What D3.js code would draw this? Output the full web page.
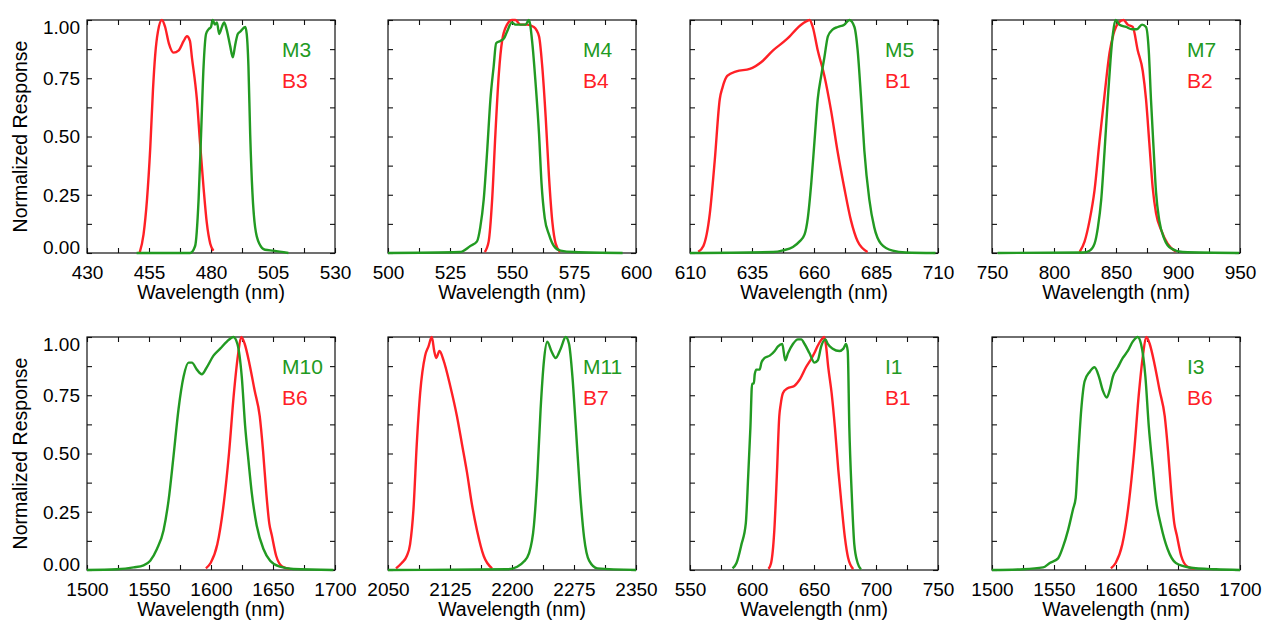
<!DOCTYPE html>
<html>
<head>
<meta charset="utf-8">
<script src="https://cdn.jsdelivr.net/npm/d3@7"></script>
<style>
body { margin: 0; background: #fff; }
svg text { font-family: "Liberation Sans", Arial, Helvetica, sans-serif; fill: #000; }
</style>
</head>
<body>
<svg id="chart" width="1264" height="620"></svg>
<script>

// spectral response functions, [wavelength nm, normalized response]
const m3 = [[450,0],[471.6,0],[473.6,0.03],[475,0.23],[476,0.51],[477,0.8],[478,0.94],[479,0.96],[480,0.97],[480.7,1.0],[481.6,0.98],[482.4,0.99],[483.3,0.94],[484.4,0.97],[485.3,0.99],[486.3,0.96],[487.7,0.89],[488.8,0.84],[489.7,0.89],[490.8,0.94],[491.8,0.95],[493.8,0.97],[494.4,0.94],[495.1,0.8],[495.8,0.51],[496.7,0.26],[497.8,0.11],[499.5,0.04],[501.8,0.014],[505.2,0.01],[511.2,0]];
const b3 = [[451.2,0],[452.8,0.08],[454.2,0.23],[455.5,0.45],[456.6,0.7],[457.5,0.85],[458.6,0.95],[460.2,1.0],[461.5,0.97],[463,0.9],[464.9,0.86],[467,0.87],[469,0.91],[470.3,0.93],[471.5,0.91],[472.3,0.84],[474.3,0.66],[475.6,0.47],[477,0.28],[478.3,0.13],[479.7,0.04],[481,0.01]];

const m4 = [[500,0],[529,0.004],[533.2,0.03],[535.9,0.05],[537.2,0.11],[538.6,0.23],[540,0.44],[541.3,0.66],[542.6,0.8],[543.6,0.9],[545.3,0.91],[546.7,0.92],[548,0.95],[550,0.99],[551.4,0.98],[553.4,0.98],[555.5,0.98],[556.8,1.0],[558.2,0.9],[559.5,0.73],[560.9,0.51],[561.9,0.3],[563.2,0.15],[564.9,0.08],[566.9,0.03],[569.6,0.01],[575,0.004],[594.6,0]];
const b4 = [[539,0.004],[540.6,0.05],[542,0.23],[543.3,0.51],[544.7,0.77],[546,0.91],[548,0.98],[550,1.0],[551.4,1.0],[553.4,0.98],[556.1,0.98],[558.8,0.97],[560.9,0.93],[562.2,0.8],[563.6,0.58],[564.9,0.33],[566.3,0.13],[567.6,0.04],[569.4,0.004]];

const m5 = [[610,0],[643.5,0.004],[647.5,0.011],[651.5,0.026],[654.2,0.05],[656.2,0.08],[657.5,0.15],[658.9,0.3],[660.2,0.48],[661.5,0.66],[662.9,0.76],[664.2,0.84],[665.6,0.93],[667.6,0.96],[669.6,0.97],[672.2,0.98],[674.3,1.0],[676.3,0.97],[677.6,0.87],[679,0.66],[680.3,0.44],[682.3,0.23],[684.3,0.11],[687,0.04],[691.7,0.01],[697,0.002],[709,0]];
const b1 = [[613.3,0.005],[615.4,0.03],[618,0.17],[620,0.4],[622,0.66],[623.1,0.71],[625,0.76],[628.7,0.78],[634.1,0.79],[638.8,0.82],[643.5,0.87],[648.2,0.91],[650.2,0.93],[652.8,0.96],[656.2,0.99],[658.2,1.0],[659.5,0.97],[661.5,0.87],[664.2,0.76],[666.9,0.61],[669.6,0.43],[672.2,0.28],[674.9,0.14],[677.6,0.05],[681.6,0.004]];

const m7 = [[754.6,0],[823.4,0.002],[828.7,0.01],[832.7,0.04],[835.4,0.11],[838.1,0.23],[840.8,0.44],[843.4,0.66],[845.6,0.83],[847.5,0.94],[849.6,1.0],[852.8,0.98],[858.2,0.97],[863,0.96],[866.7,0.96],[871,0.98],[874.2,0.97],[876.4,0.87],[878.2,0.66],[880.4,0.44],[882.3,0.26],[884.9,0.14],[889,0.06],[894.3,0.02],[903.7,0.004],[949.2,0]];
const b2 = [[820.7,0.005],[824.7,0.05],[828.7,0.14],[832.7,0.27],[836.7,0.48],[840.8,0.68],[844.8,0.86],[848,0.94],[852.3,0.99],[856,1.0],[859.5,0.98],[863.5,0.97],[867.5,0.87],[871.6,0.78],[874.2,0.66],[876.9,0.47],[879.6,0.28],[882.3,0.17],[886.3,0.1],[891.6,0.04],[898.3,0.005]];

const m10 = [[1500,0],[1524,0.003],[1537.6,0.011],[1545.6,0.02],[1551,0.04],[1556.4,0.09],[1561.7,0.17],[1565.8,0.3],[1569.8,0.49],[1573.8,0.69],[1577.9,0.83],[1581.9,0.89],[1584.6,0.89],[1588.6,0.86],[1592.6,0.84],[1596.6,0.87],[1602,0.92],[1607.4,0.95],[1612.8,0.98],[1618.1,1.0],[1621.3,0.97],[1624.8,0.83],[1627.5,0.62],[1630.2,0.47],[1632.9,0.33],[1636.9,0.19],[1642.3,0.09],[1647.7,0.04],[1655.7,0.014],[1666.4,0.004],[1698.7,0]];
const b6 = [[1595.9,0.007],[1599.7,0.03],[1605.1,0.11],[1610.4,0.29],[1614.5,0.5],[1618.5,0.76],[1621.7,0.92],[1624.4,1.0],[1627.2,0.97],[1631.2,0.88],[1635.2,0.77],[1639.3,0.66],[1642,0.51],[1644.6,0.33],[1647,0.2],[1649,0.15],[1652.6,0.06],[1657.4,0.015],[1663.4,0.005]];

const m11 = [[2050,0],[2194.1,0.003],[2206.3,0.014],[2214.4,0.036],[2220.4,0.07],[2226.5,0.19],[2230.6,0.4],[2234.6,0.69],[2238.7,0.9],[2242.7,0.98],[2247.6,0.94],[2252.8,0.91],[2258.9,0.95],[2265,1.0],[2269,0.97],[2273.1,0.83],[2277.1,0.62],[2282.4,0.33],[2287.2,0.14],[2293.3,0.04],[2303.4,0.007],[2350,0]];
const b7 = [[2059.7,0.007],[2066.6,0.03],[2072.7,0.06],[2076.7,0.11],[2080.8,0.26],[2084.8,0.54],[2088.9,0.76],[2094.9,0.92],[2099,0.96],[2103,1.0],[2105.9,0.94],[2108.3,0.91],[2112.3,0.94],[2117.2,0.9],[2125.3,0.79],[2133.4,0.66],[2139.5,0.54],[2145.5,0.42],[2151.6,0.28],[2157.7,0.17],[2165.8,0.06],[2175.9,0.007]];

const i1 = [[584.3,0.007],[587.5,0.03],[591.5,0.11],[595,0.2],[596.9,0.4],[598.7,0.61],[600.1,0.8],[601.5,0.8],[602.2,0.84],[603.5,0.86],[606.2,0.86],[607.6,0.89],[610.2,0.91],[614.3,0.92],[618.3,0.94],[621,0.96],[624.4,0.97],[626.8,0.9],[629,0.93],[633,0.97],[637,0.99],[639.7,0.99],[642.4,0.97],[646.4,0.93],[650.4,0.89],[653.1,0.9],[655.8,0.96],[659.2,0.99],[661.1,0.97],[665.1,0.95],[670.5,0.94],[673.7,0.95],[675.8,0.97],[677.2,0.94],[678.5,0.61],[680.4,0.33],[682.5,0.11],[685.2,0.03],[687.9,0.003]];

const i3 = [[1500,0],[1525.2,0.003],[1541.2,0.011],[1546.6,0.03],[1553.3,0.05],[1557.3,0.1],[1561.3,0.17],[1565.3,0.26],[1567.5,0.31],[1569.3,0.47],[1572,0.69],[1574.7,0.81],[1578.7,0.85],[1582.7,0.87],[1586.2,0.83],[1589.4,0.77],[1592.6,0.74],[1594.8,0.77],[1597.5,0.83],[1601.5,0.87],[1605.5,0.91],[1609.5,0.94],[1613.5,0.98],[1617.5,1.0],[1620.2,0.97],[1623.7,0.83],[1626.4,0.62],[1629.6,0.44],[1632.3,0.3],[1636.3,0.19],[1641.6,0.09],[1648.3,0.03],[1659,0.011],[1680.5,0.003],[1700,0]];

// one entry per panel, row by row
const greenNames = ["M3", "M4", "M5", "M7", "M10", "M11", "I1", "I3"];
const redNames = ["B3", "B4", "B1", "B2", "B6", "B7", "B1", "B6"];
const xDomains = [[430,530],[500,600],[610,710],[750,950],[1500,1700],[2050,2350],[550,750],[1500,1700]];
const xSteps = [25, 25, 25, 50, 50, 75, 50, 50];
const yTickValues = [0, 0.25, 0.5, 0.75, 1];

const bands = {M3: m3, B3: b3, M4: m4, B4: b4, M5: m5, B1: b1, M7: m7, B2: b2,
               M10: m10, B6: b6, M11: m11, B7: b7, I1: i1, I3: i3};

const green = "#229a22";
const red = "#ff2026";

const svg = d3.select("#chart");

const pw = 248, ph = 233;
const lefts = [87, 388, 690, 992];
const tops = [20, 337];
const tickLen = 5;

greenNames.forEach((gname, i) => {
    const col = i % 4, row = Math.floor(i / 4);
    const g = svg.append("g").attr("transform", `translate(${lefts[col]},${tops[row]})`);

    const x = d3.scaleLinear().domain(xDomains[i]).range([0, pw]);
    const y = d3.scaleLinear().domain([0, 1]).range([ph, 0]);

    const step = xSteps[i];
    const major = d3.range(xDomains[i][0], xDomains[i][1] + 0.01, step);
    const minor = d3.range(xDomains[i][0] + step / 2, xDomains[i][1], step);
    const yMinor = d3.range(0.125, 1, 0.25);

    // bottom axis with labels
    g.append("g")
        .attr("transform", `translate(0,${ph})`)
        .call(d3.axisBottom(x).tickValues(major).tickSizeInner(-tickLen).tickSizeOuter(0)
            .tickPadding(13).tickFormat(d3.format("d")))
        .call(a => a.select(".domain").remove())
        .call(a => a.selectAll("text").attr("font-size", 19).attr("font-family", null));
    g.append("g")
        .attr("transform", `translate(0,${ph})`)
        .call(d3.axisBottom(x).tickValues(minor).tickSizeInner(-tickLen).tickSizeOuter(0).tickFormat(""))
        .call(a => a.select(".domain").remove());
    // top axis, ticks only
    g.append("g")
        .call(d3.axisTop(x).tickValues(major.concat(minor)).tickSizeInner(-tickLen).tickSizeOuter(0).tickFormat(""))
        .call(a => a.select(".domain").remove());

    // left axis
    const left = d3.axisLeft(y).tickValues(yTickValues).tickSizeInner(-tickLen).tickSizeOuter(0).tickPadding(7)
        .tickFormat(col === 0 ? d3.format(".2f") : "");
    g.append("g")
        .call(left)
        .call(a => a.select(".domain").remove())
        .call(a => a.selectAll("text").attr("font-size", 19).attr("font-family", null)
            .attr("dy", d => d === 0 ? "0em" : d === 1 ? "0.72em" : "0.34em"));
    g.append("g")
        .call(d3.axisLeft(y).tickValues(yMinor).tickSizeInner(-tickLen).tickSizeOuter(0).tickFormat(""))
        .call(a => a.select(".domain").remove());
    // right axis, ticks only
    g.append("g")
        .attr("transform", `translate(${pw},0)`)
        .call(d3.axisRight(y).tickValues(yTickValues.concat(yMinor)).tickSizeInner(-tickLen).tickSizeOuter(0).tickFormat(""))
        .call(a => a.select(".domain").remove());

    g.selectAll(".tick line").attr("stroke", "#111").attr("stroke-width", 1.1);

    // frame
    g.append("rect")
        .attr("width", pw).attr("height", ph)
        .attr("fill", "none").attr("stroke", "#111").attr("stroke-width", 1.2);

    const line = d3.line()
        .x(d => x(d[0]))
        .y(d => y(d[1]))
        .curve(d3.curveMonotoneX);

    g.append("path")
        .datum(bands[redNames[i]])
        .attr("d", line)
        .attr("fill", "none")
        .attr("stroke", red)
        .attr("stroke-width", 2.4)
        .attr("stroke-linejoin", "round");

    g.append("path")
        .datum(bands[gname])
        .attr("d", line)
        .attr("fill", "none")
        .attr("stroke", green)
        .attr("stroke-width", 2.4)
        .attr("stroke-linejoin", "round");

    // band names
    g.append("text")
        .attr("x", 195).attr("y", 37)
        .attr("font-size", 21)
        .style("fill", green)
        .text(gname);
    g.append("text")
        .attr("x", 195).attr("y", 68)
        .attr("font-size", 21)
        .style("fill", red)
        .text(redNames[i]);

    // axis titles
    g.append("text")
        .attr("x", pw / 2).attr("y", ph + 46)
        .attr("text-anchor", "middle")
        .attr("font-size", 19.5)
        .text("Wavelength (nm)");

    if (col === 0) {
        g.append("text")
            .attr("transform", `translate(${27 - lefts[0]},${ph / 2}) rotate(-90)`)
            .attr("text-anchor", "middle")
            .attr("font-size", 19.5)
            .text("Normalized Response");
    }
});

</script>
</body>
</html>
